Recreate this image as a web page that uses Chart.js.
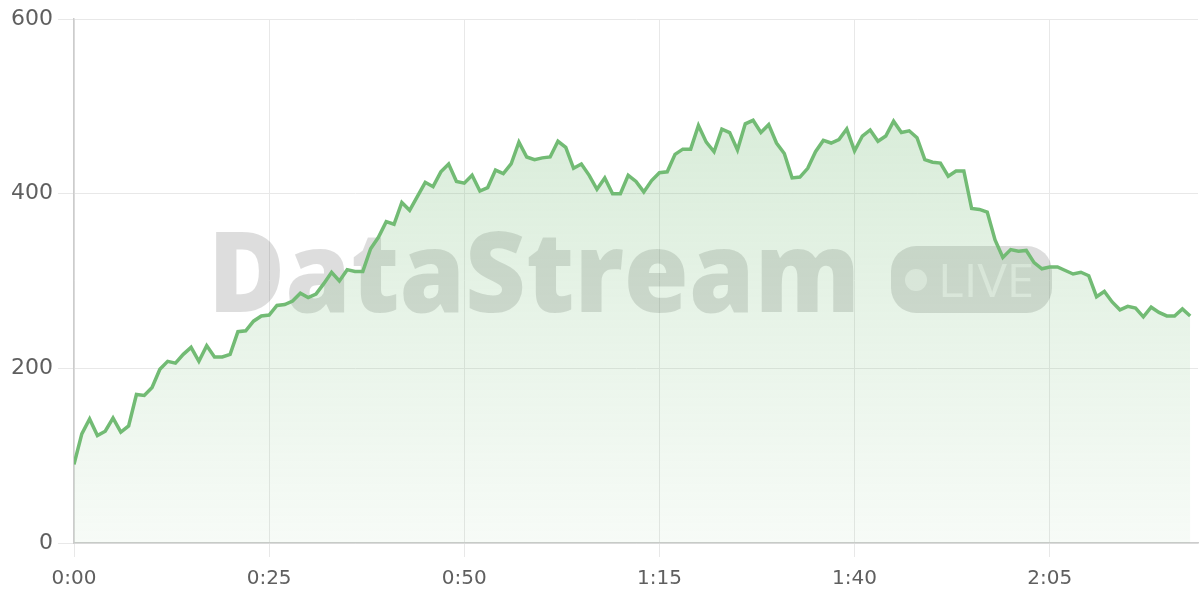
<!DOCTYPE html>
<html>
<head>
<meta charset="utf-8">
<script src="https://cdn.jsdelivr.net/npm/chart.js@4.4.1/dist/chart.umd.min.js"></script>
<style>
  html, body { margin: 0; padding: 0; background: #ffffff; }
  #wrap { width: 1200px; height: 600px; position: relative; }
</style>
</head>
<body>
<div id="wrap"><canvas id="c" width="1200" height="600"></canvas></div>
<script>
// Streamed value, one sample per second of elapsed time
const values = [
  90,125,142,123,128,143,127,134,170,169,
  178,199,208,206,216,224,208,226,213,213,
  216,242,243,254,260,261,272,273,277,286,
  281,285,297,310,300,313,311,311,337,350,
  368,365,390,381,397,413,408,425,434,414,
  412,421,403,407,427,423,434,459,442,439,
  441,442,460,453,429,434,421,405,418,400,
  400,421,414,402,415,424,425,445,451,451,
  478,459,448,474,470,450,480,484,470,479,
  458,446,418,419,429,448,461,458,462,474,
  449,466,473,460,466,483,470,472,464,439,
  436,435,420,426,426,383,382,379,347,327,
  336,334,335,321,314,316,316,312,308,310,
  306,282,288,276,267,271,269,259,270,264,
  260,260,268,260
];
const seconds = values.map((_, i) => i);
const xTicks = [0, 25, 50, 75, 100, 125];   // seconds shown as m:ss
const yTicks = [0, 200, 400, 600];
const watermarkText = "DataStream";
const badgeText = "LIVE";

const points = seconds.map((s, i) => ({ x: s, y: values[i] }));

function fmt(sec) {
  const m = Math.floor(sec / 60);
  const s = Math.round(sec % 60);
  return m + ":" + String(s).padStart(2, "0");
}

const watermark = {
  id: "watermark",
  beforeDatasetsDraw(chart) {
    const { ctx, chartArea: a } = chart;
    ctx.save();
    const cx = (a.left + a.right) / 2;
    const cy = (a.top + a.bottom) / 2;
    ctx.fillStyle = "rgba(0,0,0,0.135)";
    ctx.textBaseline = "alphabetic";
    ctx.textAlign = "left";
    ctx.font = "800 112px 'Open Sans'";
    const tw = ctx.measureText(watermarkText).width;
    const tx = cx - 428;
    ctx.save();
    ctx.translate(tx, cy + 31);
    ctx.scale(652 / tw, 1);
    ctx.fillText(watermarkText, 0, 0);
    ctx.restore();
    const bx = cx + 255, badgeW = 161, badgeH = 67, by = cy - 35;
    ctx.beginPath();
    ctx.roundRect(bx, by, badgeW, badgeH, 25);
    ctx.fill();
    ctx.fillStyle = "rgba(255,255,255,0.55)";
    ctx.beginPath();
    ctx.arc(bx + 25, cy - 1, 11, 0, Math.PI * 2);
    ctx.fill();
    ctx.font = "500 46px 'Open Sans'";
    const lw = ctx.measureText(badgeText).width;
    ctx.save();
    ctx.translate(bx + 47, cy + 16);
    ctx.scale(96 / lw, 1);
    ctx.fillText(badgeText, 0, 0);
    ctx.restore();
    ctx.restore();
  }
};

const ctx = document.getElementById("c").getContext("2d");
new Chart(ctx, {
  type: "line",
  data: {
    datasets: [{
      data: points,
      borderColor: "#72bb74",
      borderWidth: 3.5,
      pointRadius: 0,
      tension: 0,
      fill: "origin",
      backgroundColor: (c) => {
        const a = c.chart.chartArea;
        if (!a) return "rgba(116,187,118,0.2)";
        const g = c.chart.ctx.createLinearGradient(0, a.top, 0, a.bottom);
        g.addColorStop(0, "rgba(116,187,118,0.32)");
        g.addColorStop(1, "rgba(116,187,118,0.06)");
        return g;
      }
    }]
  },
  options: {
    responsive: false,
    animation: false,
    layout: { padding: { top: 19, right: 2, left: 0, bottom: 0 } },
    plugins: { legend: { display: false }, tooltip: { enabled: false } },
    scales: {
      x: {
        type: "linear",
        min: 0,
        max: 144,
        afterBuildTicks: (s) => { s.ticks = xTicks.map(v => ({ value: v })); },
        ticks: {
          callback: (v) => fmt(v),
          color: "#5f5f5f",
          font: { family: "'DejaVu Sans'", size: 20 },
          padding: 10,
          maxRotation: 0,
          autoSkip: false
        },
        grid: { color: "#e8e8e8", tickLength: 14, lineWidth: 1 },
        border: { color: "#cccccc", width: 1.5 },
        afterFit: (s) => { s.height = 57; s.paddingRight = 0; }
      },
      y: {
        min: 0,
        max: 600,
        afterBuildTicks: (s) => { s.ticks = yTicks.map(v => ({ value: v })); },
        ticks: {
          color: "#5f5f5f",
          font: { family: "'DejaVu Sans'", size: 22 },
          padding: 5
        },
        grid: { color: "#e8e8e8", tickLength: 16, lineWidth: 1 },
        border: { color: "#cccccc", width: 1.5 },
        afterFit: (s) => { s.width = 74; }
      }
    }
  },
  plugins: [watermark]
});
</script>
</body>
</html>
